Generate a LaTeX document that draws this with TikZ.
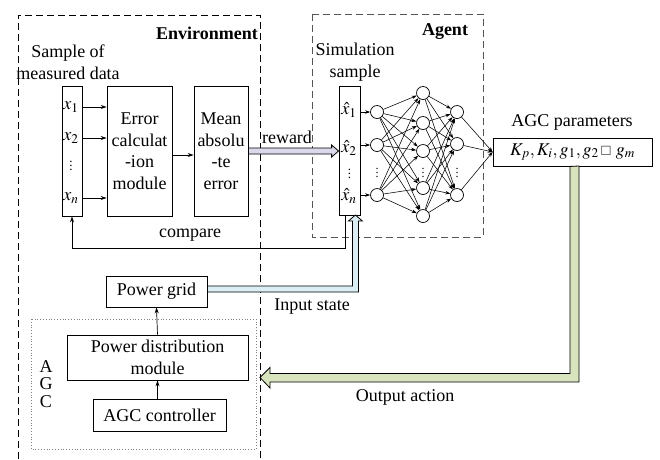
\documentclass[tikz,border=0pt]{standalone}
\usepackage{mathptmx}
\usepackage{amssymb}
\usepackage{fontspec}
\setmainfont{Liberation Serif}
\usetikzlibrary{arrows.meta,calc}
\definecolor{rewardc}{HTML}{DCD8EC}
\definecolor{inputc}{HTML}{DBEEF3}
\definecolor{outputc}{HTML}{D7E4BD}
\definecolor{agentgray}{HTML}{555555}
\begin{document}
\begin{tikzpicture}[x=1pt,y=-1pt,
  font=\fontsize{18}{21.5}\selectfont,
  box/.style={draw,fill=white,inner sep=0pt,align=center,line width=0.8pt},
  neuron/.style={draw,circle,fill=white,minimum size=13pt,inner sep=0pt,line width=0.7pt},
  arr/.style={-{Stealth[length=6pt,width=4pt]},line width=0.7pt},
  narr/.style={-{Stealth[length=5pt,width=3.5pt]},line width=0.55pt},
  envline/.style={dash pattern=on 7pt off 4pt,line width=0.8pt},
  agentline/.style={dash pattern=on 7pt off 4pt,line width=0.9pt,draw=agentgray},
  lbl/.style={inner sep=0pt}
]
\useasboundingbox (0,0) rectangle (660,459);

% group frames
\draw[envline] (18,459) -- (18,15) -- (260,15) -- (260,459);
\draw[agentline] (312,14) rectangle (483,237);
\draw[dotted,draw=gray,line width=0.8pt] (31,319) rectangle (256,449);

\node[lbl,anchor=east,font=\fontsize{18}{21.5}\selectfont\bfseries] (envt) at (258,33) {Environment};
\node[lbl,font=\fontsize{18}{21.5}\selectfont\bfseries] (agentt) at (445,32) {Agent};

% environment part
\node[lbl,align=center] (samptxt) at (68,62) {Sample of\\measured data};
\node[box,minimum width=20pt,minimum height=130pt] (samp) at (72,151) {};
\node[lbl] (x1) at (71,107) {$x_1$};
\node[lbl] (x2) at (71,138) {$x_2$};
\node[lbl,font=\fontsize{13}{14}\selectfont] (xd) at (71,163) {$\vdots$};
\node[lbl] (xn) at (71,198) {$x_n$};

\node[box,minimum width=65pt,minimum height=130pt] (err) at (139.5,151) {Error\\calculat\\-ion\\module};
\node[box,minimum width=54pt,minimum height=130pt] (mean) at (221,151) {Mean\\absolu\\-te\\error};

\draw[arr] (x1 -| samp.east) -- (x1 -| err.west);
\draw[arr] (x2 -| samp.east) -- (x2 -| err.west);
\draw[arr] (xn -| samp.east) -- (xn -| err.west);
\draw[arr] ($(err.east)+(0,4)$) -- ($(mean.west)+(0,4)$);

% agent part
\node[lbl,align=center] (simtxt) at (355,62) {Simulation\\sample};
\node[box,minimum width=21pt,minimum height=129pt] (sim) at (349.5,151) {};
\node[lbl] (h1) at (349,110) {$\hat{x}_1$};
\node[lbl] (h2) at (349,148) {$\hat{x}_2$};
\node[lbl,font=\fontsize{13}{14}\selectfont] (hd) at (349.5,171) {$\vdots$};
\node[lbl] (hn) at (349,196) {$\hat{x}_n$};

% neural network
\node[neuron] (a1) at (377,112) {};
\node[neuron] (a2) at (377,145) {};
\node[neuron] (a3) at (377,195) {};
\node[neuron] (b1) at (423,93) {};
\node[neuron] (b2) at (423,123) {};
\node[neuron] (b3) at (423,151) {};
\node[neuron] (b4) at (423,188) {};
\node[neuron] (b5) at (423,216) {};
\node[neuron] (c1) at (457,112) {};
\node[neuron] (c2) at (457,144) {};
\node[neuron] (c3) at (457,195) {};
\node[lbl,font=\fontsize{12}{13}\selectfont] (ad) at (377,170) {$\vdots$};
\node[lbl,font=\fontsize{12}{13}\selectfont] (bd) at (423,170) {$\vdots$};
\node[lbl,font=\fontsize{12}{13}\selectfont] (cd) at (457,170) {$\vdots$};

\draw[narr] (a1 -| sim.east) -- (a1);
\draw[narr] (a2 -| sim.east) -- (a2);
\draw[narr] (a3 -| sim.east) -- (a3);
\foreach \i in {a1,a2,a3}{\foreach \j in {b1,b2,b3,b4,b5}{\draw[narr] (\i) -- (\j);}}
\foreach \i in {b1,b2,b3,b4,b5}{\foreach \j in {c1,c2,c3}{\draw[narr] (\i) -- (\j);}}

\node[lbl] (paramtxt) at (572,122) {AGC parameters};
\node[box,minimum width=159pt,minimum height=28pt] (param) at (572.5,152) {$K_p, K_i, g_1, g_2\,{\scriptstyle\square}\ g_m$};
\foreach \i in {c1,c2,c3}{\draw[narr] (\i) -- (param.west);}

% reward arrow
\draw[fill=rewardc,line width=0.8pt] ($(mean.east)+(0,-3)$) -- ($(sim.west)+(-7,-3)$) -- ($(sim.west)+(-7,-6)$) -- (sim.west) -- ($(sim.west)+(-7,6)$) -- ($(sim.west)+(-7,3)$) -- ($(mean.east)+(0,3)$) -- cycle;
\node[lbl] (rewardt) at (287,137) {reward};

% compare
\draw[arr] ($(sim.south)+(-4.5,0)$) -- ++(0,32) -| (samp.south);
\node[lbl] (comparet) at (190,235) {compare};

% AGC part
\node[box,minimum width=101pt,minimum height=31pt] (grid) at (156.5,291.5) {Power grid};
\node[box,minimum width=181pt,minimum height=45pt] (pdm) at (157.5,357.5) {Power distribution\\module};
\node[box,minimum width=133pt,minimum height=32pt] (ctrl) at (159.5,415) {AGC controller};
\node[lbl,align=center,font=\fontsize{18}{17.5}\selectfont] (agcl) at (46,384) {A\\G\\C};
\draw[arr] (ctrl.north -| pdm.south) -- (pdm.south);
\draw[arr] (pdm.north) -- (grid.south);

% input state arrow
\coordinate (is) at ($(grid.east)+(0,-2.5)$);
\draw[fill=inputc,line width=0.8pt] ($(is)+(0,-3)$) -- ++(145,0) -- ++(0,-65) -- ++(-4,0) -- ++(7,-6) -- ++(7,6) -- ++(-4,0) -- ++(0,71) -- ++(-151,0) -- cycle;
\node[lbl] (inputt) at (312,307) {Input state};

% output action arrow
\coordinate (oa) at ($(param.south)+(2,0)$);
\coordinate (oatip) at (260,377.5);
\draw[fill=outputc,line width=0.8pt] ($(oa)+(-4.5,0)$) -- ++(0,207) -- ++(-300,0) -- ++(0,-6) -- (oatip) -- ++(10,10.5) -- ++(0,-6) -- ++(309,0) -- ++(0,-216) -- cycle;
\node[lbl] (outputt) at (405,397) {Output action};
\end{tikzpicture}
\end{document}
